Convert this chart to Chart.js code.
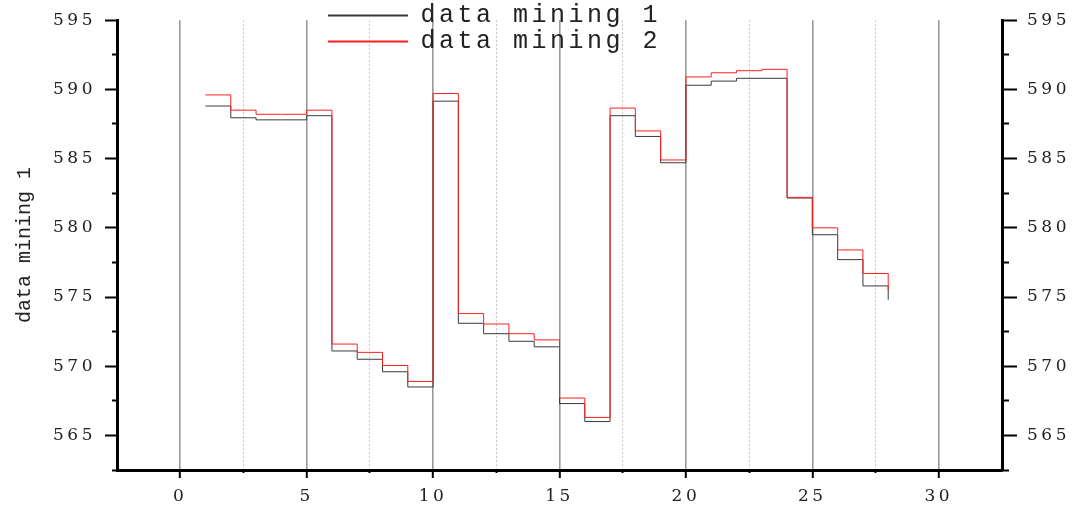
<!DOCTYPE html>
<html>
<head>
<meta charset="utf-8">
<script src="https://cdn.jsdelivr.net/npm/chart.js@4"></script>
<style>
  html, body { margin: 0; padding: 0; background: #fff; }
  #wrap { width: 1077px; height: 506px; position: relative; }
</style>
</head>
<body>
<div id="wrap"><canvas id="chart"></canvas></div>
<script>
// start: Data
const X_VALUES = [1, 2, 3, 4, 5, 6, 7, 8, 9, 10, 11, 12, 13, 14, 15, 16, 17, 18, 19, 20, 21, 22, 23, 24, 25, 26, 27, 28];
const MINING_1 = [588.8, 587.95, 587.8, 587.8, 588.1, 571.1, 570.5, 569.6, 568.5, 589.15, 573.1, 572.35, 571.8, 571.4,
  567.3, 566.0, 588.1, 586.6, 584.7, 590.3, 590.6, 590.8, 590.8, 582.15, 579.5, 577.7, 575.8, 574.8];
const MINING_2 = [589.6, 588.5, 588.2, 588.2, 588.5, 571.6, 571.0, 570.05, 568.9, 589.7, 573.8, 573.05, 572.35, 571.9,
  567.7, 566.3, 588.65, 587.0, 584.9, 590.9, 591.2, 591.35, 591.45, 582.2, 580.0, 578.4, 576.7, 575.5];
const SERIES_NAMES = ["data mining 1", "data mining 2"];
const SERIES_COLORS = ["#3a3a3a", "#ff1f1f"];
const X_MAJOR = [0, 5, 10, 15, 20, 25, 30];
const X_MINOR = [2.5, 7.5, 12.5, 17.5, 22.5, 27.5];
const Y_MAJOR = [565, 570, 575, 580, 585, 590, 595];
const Y_MINOR = [562.5, 567.5, 572.5, 577.5, 582.5, 587.5, 592.5];
const X_MIN = -2.5, X_MAX = 32.5, Y_MIN = 562.5, Y_MAX = 595;
// end: Data

const tickFont = { family: "'DejaVu Serif', serif", size: 17 };
const ink = "#222";

function setTicks(values) {
  return function (scale) {
    scale.ticks = values.map(function (v) { return { value: v }; });
  };
}

function points(ys) {
  return X_VALUES.map(function (x, i) { return { x: x, y: ys[i] }; });
}

// wide glyphs: space the letters of ticks and legend, not the rotated title
const spacing = {
  id: "spacing",
  afterLayout(chart) {
    chart.legend.left = 327;
    chart.legend.top = 2;
  },
  beforeDraw(chart) {
    chart.ctx.letterSpacing = "3.5px";
  },
  afterDatasetsDraw(chart) {
    chart.ctx.letterSpacing = "0px";
  },
};

function series(i, ys, order) {
  return {
    label: SERIES_NAMES[i],
    data: points(ys),
    borderColor: SERIES_COLORS[i],
    backgroundColor: SERIES_COLORS[i],
    borderWidth: 1,
    stepped: "before",
    pointRadius: 0,
    fill: false,
    order: order,
  };
}

new Chart(document.getElementById("chart"), {
  type: "line",
  data: {
    datasets: [series(0, MINING_1, 1), series(1, MINING_2, 0)],
  },
  options: {
    responsive: true,
    maintainAspectRatio: false,
    animation: false,
    layout: { padding: { top: 17, left: 0, right: 0, bottom: 0 } },
    plugins: {
      tooltip: { enabled: false },
      legend: {
        position: "chartArea",
        align: "start",
        labels: {
          boxWidth: 80,
          boxHeight: 2,
          padding: 1,
          color: ink,
          font: { family: "Liberation Mono", size: 25 },
          generateLabels: function (chart) {
            return chart.data.datasets.map(function (ds, i) {
              return {
                text: ds.label,
                datasetIndex: i,
                fillStyle: SERIES_COLORS[i],
                strokeStyle: SERIES_COLORS[i],
                fontColor: ink,
                lineWidth: 0,
                hidden: false,
              };
            });
          },
        },
      },
    },
    scales: {
      x: {
        type: "linear",
        position: "bottom",
        min: X_MIN,
        max: X_MAX,
        weight: 1,
        afterBuildTicks: setTicks(X_MAJOR),
        afterFit: function (s) { s.height = 36; },
        grid: { color: "#999", lineWidth: 1.6, tickColor: "#000", tickWidth: 2, tickLength: 8 },
        border: { color: "#000", width: 3 },
        ticks: { font: tickFont, color: ink, padding: 8, autoSkip: false, maxRotation: 0 },
      },
      xm: {
        type: "linear",
        position: "bottom",
        min: X_MIN,
        max: X_MAX,
        weight: 0,
        afterBuildTicks: setTicks(X_MINOR),
        afterFit: function (s) { s.height = 0; },
        grid: { color: "#c4c4c4", lineWidth: 1, tickColor: "#000", tickWidth: 2, tickLength: 3 },
        border: { display: false, dash: [2, 2] },
        ticks: { display: false },
      },
      y: {
        type: "linear",
        position: "left",
        min: Y_MIN,
        max: Y_MAX,
        weight: 1,
        afterBuildTicks: setTicks(Y_MAJOR),
        afterFit: function (s) { s.width = 117; },
        grid: { drawOnChartArea: false, tickColor: "#000", tickWidth: 2, tickLength: 12, z: 1 },
        border: { color: "#000", width: 3, z: 1 },
        ticks: { font: tickFont, color: ink, padding: 9 },
        title: {
          display: true,
          text: SERIES_NAMES[0],
          color: ink,
          font: { family: "Liberation Mono", size: 20 },
          padding: { top: 13, bottom: 0 },
        },
      },
      ym: {
        type: "linear",
        position: "left",
        min: Y_MIN,
        max: Y_MAX,
        weight: 0,
        afterBuildTicks: setTicks(Y_MINOR),
        afterFit: function (s) { s.width = 0; },
        grid: { drawOnChartArea: false, tickColor: "#000", tickWidth: 2, tickLength: 5 },
        border: { display: false },
        ticks: { display: false },
      },
      y2: {
        type: "linear",
        position: "right",
        min: Y_MIN,
        max: Y_MAX,
        weight: 1,
        afterBuildTicks: setTicks(Y_MAJOR),
        afterFit: function (s) { s.width = 75; },
        grid: { drawOnChartArea: false, tickColor: "#000", tickWidth: 2, tickLength: 15 },
        border: { color: "#000", width: 3 },
        ticks: { font: tickFont, color: ink, padding: 10 },
      },
      y2m: {
        type: "linear",
        position: "right",
        min: Y_MIN,
        max: Y_MAX,
        weight: 0,
        afterBuildTicks: setTicks(Y_MINOR),
        afterFit: function (s) { s.width = 0; },
        grid: { drawOnChartArea: false, tickColor: "#000", tickWidth: 2, tickLength: 7 },
        border: { display: false },
        ticks: { display: false },
      },
    },
  },
  plugins: [spacing],
});
</script>
</body>
</html>
